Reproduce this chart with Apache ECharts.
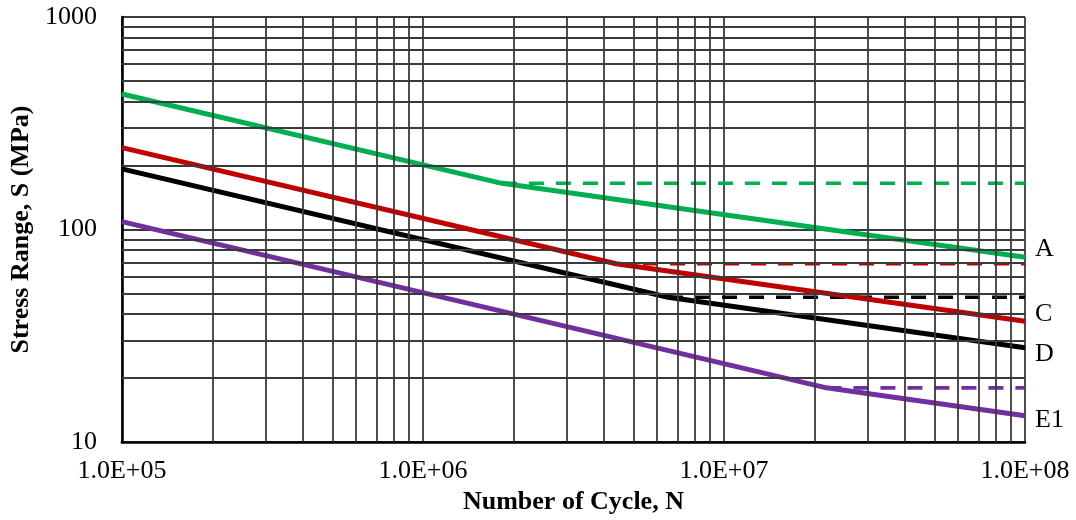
<!DOCTYPE html>
<html>
<head>
<meta charset="utf-8">
<title>S-N Curves</title>
<script src="https://cdn.jsdelivr.net/npm/echarts@6/dist/echarts.min.js"></script>
<style>
  html, body { margin: 0; padding: 0; background: #ffffff; }
  #chart { width: 1076px; height: 520px; }
</style>
</head>
<body>
<div id="chart"></div>
<script>
// Fatigue detail categories: [N cycles, stress range MPa] at start, knee, end
const categoryNames = ['A', 'C', 'D', 'E1'];
const curveA  = [[1e5, 434], [1.83e6, 165], [1e8, 74]];
const curveC  = [[1e5, 243], [4.38e6, 69],  [1e8, 37]];
const curveD  = [[1e5, 193], [6.52e6, 48],  [1e8, 27.8]];
const curveE1 = [[1e5, 109], [2.19e7, 18],  [1e8, 13.3]];
const curveColors = ['#00B050', '#C00000', '#000000', '#7030A0'];
// vertical shift of each end label, px
const labelShift = [-8, -7, 6, 4];

const xTickLabels = ['1.0E+05', '1.0E+06', '1.0E+07', '1.0E+08'];
const yTickLabels = ['10', '100', '1000'];
const xMin = 1e5, xMax = 1e8, yMin = 10, yMax = 1000;

const curves = [curveA, curveC, curveD, curveE1];
const serif = "'Liberation Serif', 'Times New Roman', serif";
const gridColor = '#3a3a3a';
const gridWidth = 1.8;

// intermediate (2..9) grid lines of each decade
const minorX = [];
for (let d = 1e5; d < xMax; d *= 10) for (let k = 2; k <= 9; k++) minorX.push(k * d);
const minorY = [];
for (let d = 10; d < yMax; d *= 10) for (let k = 2; k <= 9; k++) minorY.push(k * d);

const series = [];

series.push({
  type: 'line',
  data: [[xMin, yMin]],
  symbol: 'none',
  lineStyle: { opacity: 0 },
  silent: true,
  z: 1,
  markLine: {
    silent: true,
    symbol: ['none', 'none'],
    label: { show: false },
    lineStyle: { type: 'solid', color: gridColor, width: gridWidth },
    data: minorX.map(v => ({ xAxis: v })).concat(minorY.map(v => ({ yAxis: v })))
  }
});

// constant-amplitude thresholds (dashed, from knee to the end of the axis)
curves.forEach((c, i) => {
  series.push({
    type: 'line',
    data: [[c[1][0], c[1][1]], [xMax, c[1][1]]],
    symbol: 'none',
    silent: true,
    z: 3,
    lineStyle: { color: curveColors[i], width: 3.6, type: [15, 12] }
  });
});

// S-N curves
curves.forEach((c, i) => {
  series.push({
    type: 'line',
    name: categoryNames[i],
    data: c,
    symbol: 'none',
    silent: true,
    z: 4,
    lineStyle: { color: curveColors[i], width: 5 },
    endLabel: {
      show: true,
      formatter: categoryNames[i],
      color: '#000000',
      fontFamily: serif,
      fontSize: 26,
      distance: 10,
      offset: [0, labelShift[i]]
    }
  });
});

const chart = echarts.init(document.getElementById('chart'));
chart.setOption({
  animation: false,
  backgroundColor: '#ffffff',
  grid: { left: 118, right: 51, top: 17, bottom: 75, containLabel: false },
  xAxis: {
    type: 'log',
    logBase: 10,
    min: xMin,
    max: xMax,
    name: 'Number of Cycle, N',
    nameLocation: 'middle',
    nameGap: 40,
    nameTextStyle: { fontFamily: serif, fontSize: 26, fontWeight: 'bold', color: '#000000' },
    axisLine: { show: true, lineStyle: { color: '#000000', width: 2.6 } },
    axisTick: { show: false },
    axisLabel: {
      margin: 16,
      fontFamily: serif,
      fontSize: 26,
      color: '#000000',
      formatter: v => xTickLabels[Math.round(Math.log10(v / xMin))]
    },
    splitLine: { show: true, lineStyle: { color: gridColor, width: gridWidth } }
  },
  yAxis: {
    type: 'log',
    logBase: 10,
    min: yMin,
    max: yMax,
    name: 'Stress Range, S (MPa)',
    nameLocation: 'middle',
    nameGap: 76,
    nameTextStyle: { fontFamily: serif, fontSize: 26, fontWeight: 'bold', color: '#000000' },
    axisLine: { show: true, lineStyle: { color: '#000000', width: 2.6 } },
    axisTick: { show: false },
    axisLabel: {
      margin: 25,
      fontFamily: serif,
      fontSize: 26,
      color: '#000000',
      formatter: v => yTickLabels[Math.round(Math.log10(v / yMin))]
    },
    splitLine: { show: true, lineStyle: { color: gridColor, width: gridWidth } }
  },
  series: series
});
</script>
</body>
</html>
